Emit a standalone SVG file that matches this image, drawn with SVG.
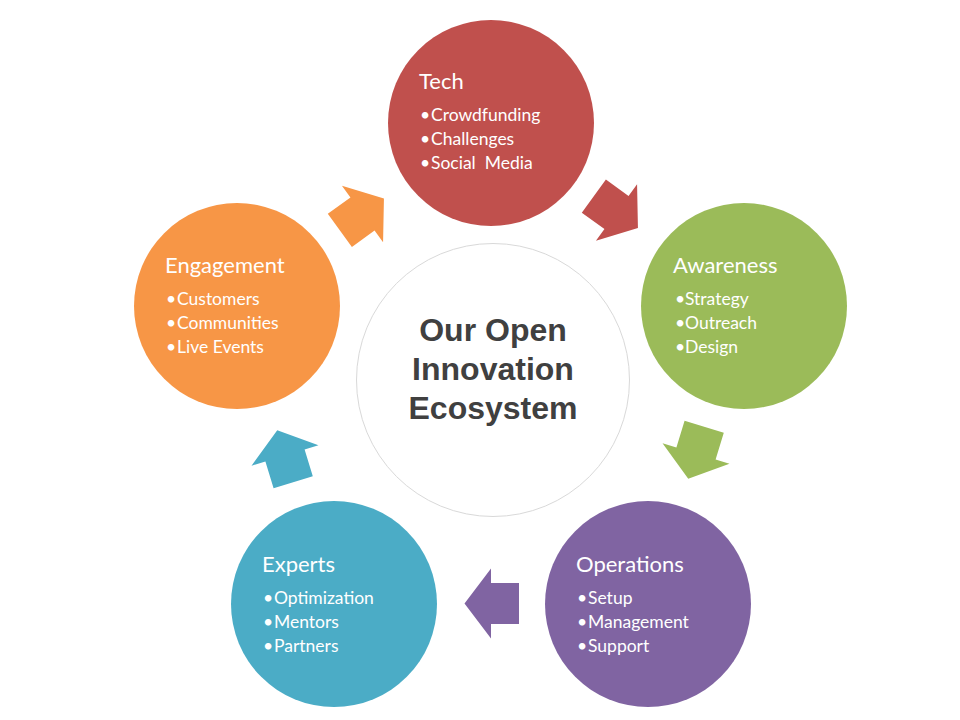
<svg xmlns="http://www.w3.org/2000/svg" width="960" height="720" viewBox="0 0 960 720">
<style>
.t{font-family:Lato,"Open Sans",sans-serif;fill:#fff;font-size:22px}
.i{font-family:Lato,"Open Sans",sans-serif;fill:#fff;font-size:17.5px;white-space:pre}
.c{font-family:"Liberation Sans",Arial,sans-serif;font-weight:bold;fill:#404040;font-size:32px;text-anchor:middle}
</style>
<defs>
<polygon id="arr" points="-28,-20.5 0,-20.5 0,-35 26.5,0 0,35 0,20.5 -28,20.5"/>
</defs>
<rect width="960" height="720" fill="#fff"/>
<g id="connectors">
<use href="#arr" fill="#C0504D" transform="translate(616.5,212.5) rotate(36)"/>
<use href="#arr" fill="#9BBB59" transform="translate(696,453.5) rotate(107)"/>
<use href="#arr" fill="#8064A2" transform="translate(491,603.5) rotate(180)"/>
<use href="#arr" fill="#4BACC6" transform="translate(285,455.5) rotate(-107)"/>
<use href="#arr" fill="#F79646" transform="translate(362.5,214) rotate(-36)"/>
</g>
<g id="center">
<circle cx="493" cy="380" r="136.5" fill="#fff" stroke="#D9D9D9" stroke-width="1"/>
<text class="c" x="493" y="341">Our Open</text>
<text class="c" x="493" y="380">Innovation</text>
<text class="c" x="493" y="419">Ecosystem</text>
</g>
<g id="tech">
<circle cx="491" cy="123" r="103" fill="#C0504D"/>
<text class="t" x="419" y="89">Tech</text>
<text class="i" y="121"><tspan x="420">•</tspan><tspan x="431">Crowdfunding</tspan></text>
<text class="i" y="145"><tspan x="420">•</tspan><tspan x="431">Challenges</tspan></text>
<text class="i" y="169"><tspan x="420">•</tspan><tspan x="431">Social  Media</tspan></text>
</g>
<g id="awareness">
<circle cx="744" cy="306" r="103" fill="#9BBB59"/>
<text class="t" x="673" y="273">Awareness</text>
<text class="i" y="305"><tspan x="675">•</tspan><tspan x="685">Strategy</tspan></text>
<text class="i" y="329"><tspan x="675">•</tspan><tspan x="685">Outreach</tspan></text>
<text class="i" y="353"><tspan x="675">•</tspan><tspan x="685">Design</tspan></text>
</g>
<g id="operations">
<circle cx="648" cy="604" r="103" fill="#8064A2"/>
<text class="t" x="576" y="572">Operations</text>
<text class="i" y="604"><tspan x="577">•</tspan><tspan x="588">Setup</tspan></text>
<text class="i" y="628"><tspan x="577">•</tspan><tspan x="588">Management</tspan></text>
<text class="i" y="652"><tspan x="577">•</tspan><tspan x="588">Support</tspan></text>
</g>
<g id="experts">
<circle cx="334" cy="604" r="103" fill="#4BACC6"/>
<text class="t" x="262" y="572">Experts</text>
<text class="i" y="604"><tspan x="263">•</tspan><tspan x="274">Optimization</tspan></text>
<text class="i" y="628"><tspan x="263">•</tspan><tspan x="274">Mentors</tspan></text>
<text class="i" y="652"><tspan x="263">•</tspan><tspan x="274">Partners</tspan></text>
</g>
<g id="engagement">
<circle cx="237" cy="306" r="103" fill="#F79646"/>
<text class="t" x="165" y="273">Engagement</text>
<text class="i" y="305"><tspan x="166">•</tspan><tspan x="177">Customers</tspan></text>
<text class="i" y="329"><tspan x="166">•</tspan><tspan x="177">Communities</tspan></text>
<text class="i" y="353"><tspan x="166">•</tspan><tspan x="177">Live Events</tspan></text>
</g>
</svg>
